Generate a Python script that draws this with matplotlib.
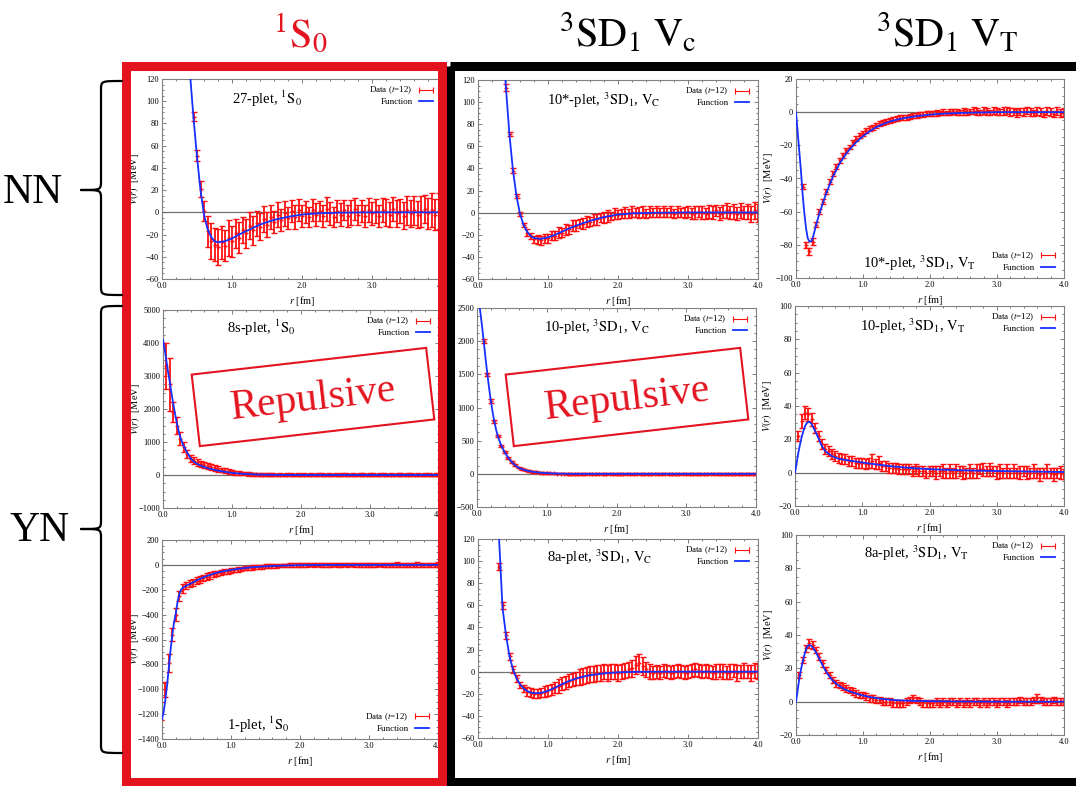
import numpy as np
import matplotlib
matplotlib.use("Agg")
import matplotlib.pyplot as plt
from matplotlib.patches import Rectangle, PathPatch
from matplotlib.path import Path
from matplotlib.lines import Line2D
from matplotlib.ticker import MultipleLocator, FormatStrFormatter

plt.rcParams['font.family'] = ['Liberation Serif', 'DejaVu Serif']
plt.rcParams['mathtext.fontset'] = 'stix'

nan = np.nan

# ---------------- data ----------------
R_DATA = [0.00, 0.05, 0.10, 0.15, 0.20, 0.25, 0.30, 0.35, 0.40, 0.45, 0.50, 0.55, 0.60, 0.65, 0.70,
          0.75, 0.80, 0.85, 0.90, 0.95, 1.00, 1.05, 1.10, 1.15, 1.20, 1.25, 1.30, 1.35, 1.40, 1.45,
          1.50, 1.55, 1.60, 1.65, 1.70, 1.75, 1.80, 1.85, 1.90, 1.95, 2.00, 2.05, 2.10, 2.15, 2.20,
          2.25, 2.30, 2.35, 2.40, 2.45, 2.50, 2.55, 2.60, 2.65, 2.70, 2.75, 2.80, 2.85, 2.90, 2.95,
          3.00, 3.05, 3.10, 3.15, 3.20, 3.25, 3.30, 3.35, 3.40, 3.45, 3.50, 3.55, 3.60, 3.65, 3.70,
          3.75, 3.80, 3.85, 3.90, 3.95, 4.00]

R_FUNC = [0.0, 0.025, 0.05, 0.075, 0.1, 0.125, 0.15, 0.175, 0.2, 0.225, 0.25, 0.275, 0.3,
          0.35, 0.4, 0.45, 0.5, 0.55, 0.6, 0.65, 0.7, 0.75, 0.8,
          0.9, 1.0, 1.1, 1.2, 1.3, 1.4, 1.5, 1.6,
          1.8, 2.0, 2.2, 2.5, 3.0, 3.5, 4.0]

# 27-plet, 1S0 (NN)
V_27 = [nan, nan, nan, nan, nan, 350, 240, 168, 126, 86, 51, 21, 1, -17, -26, -29, -31, -27, -30, -23, -26,
        -19, -23, -16, -19, -12, -16, -10, -13, -6, -11,
        -4, -9, -2, -7, -1, -5, 1, -4, 2, -3,
        0, -4, 2, -2, 1, -3, 3, -1, -4, 1,
        -2, 2, -3, 0, 3, -2, 1, -3, 2, -1,
        1, -3, 2, 0, -2, 3, -1, 1, -3, 2,
        -1, 2, -2, 1, 3, -1, 2, -2, 1, 3]
E_27 = [0, 0, 0, 0, 0, 8, 6, 5, 4, 4, 5, 7, 9, 14, 16, 15, 16, 15, 14, 16, 14,
        13, 14, 12, 13, 12, 13, 11, 12, 12, 11,
        11, 10, 11, 10, 11, 10, 10, 11, 10, 10,
        10, 9, 10, 10, 9, 10, 11, 10, 9, 10,
        10, 9, 10, 11, 10, 9, 10, 10, 11, 10,
        11, 10, 11, 12, 11, 11, 12, 11, 12, 13,
        12, 13, 12, 14, 13, 14, 15, 14, 16, 17]
F_27 = [1500, 1400, 1250, 1100, 950, 820, 700, 600, 500, 420, 350, 290, 235,
        165, 125, 85, 50, 20, -2, -15, -22, -26, -27,
        -26, -23.5, -20, -17, -14, -11, -8.8, -6.8,
        -4, -2, -1, -0.3, 0, 0, 0]

# 10*-plet, 3SD1, VC (NN)
V_10sC = [nan, nan, nan, nan, nan, nan, nan, 160, 113, 71, 38, 15, -1, -11, -18, -21, -24, -24, -25, -23, -23,
          -21, -21, -18, -18, -15, -15, -12, -12, -10, -10,
          -8, -8, -6, -6, -4, -4, -3, -3, -1, -2,
          -1, 0, -1, 1, 0, 0, 1, -1, 1, 0,
          1, 0, 1, 0, 1, -1, 1, 0, 0, 1,
          -1, 0, 1, 0, -1, 1, 0, 2, -1, 1,
          2, 0, 1, -1, 2, 0, 1, -1, 2, 0]
E_10sC = [0, 0, 0, 0, 0, 0, 0, 3, 3, 2, 2, 2, 2, 2, 3, 3, 3, 4, 4, 4, 4,
          4, 4, 5, 4, 5, 4, 5, 5, 4, 5,
          5, 4, 5, 5, 4, 5, 5, 4, 5, 4,
          4, 5, 4, 5, 4, 5, 5, 4, 5, 4,
          5, 4, 5, 4, 5, 4, 5, 4, 5, 5,
          5, 6, 5, 6, 5, 6, 6, 5, 6, 6,
          7, 6, 7, 6, 7, 6, 7, 7, 8, 8]
F_10sC = [1500, 1350, 1200, 1050, 900, 780, 670, 570, 480, 400, 330, 270, 220,
          160, 112, 70, 38, 15, -1, -11, -17, -21, -23,
          -23.7, -22.3, -20, -17.2, -14.3, -11.8, -9.5, -7.4,
          -4, -1.7, -0.6, -0.1, 0.2, 0.2, 0.2]

# 10*-plet, 3SD1, VT (NN)
V_10sT = [nan, nan, -45, -80, -84, -78, -68, -60, -54, -48, -42, -37, -33, -29, -26, -23, -21, -18, -16, -14, -13,
          -11, -10, -9, -8, -7, -6, -5.5, -5, -4.5, -4,
          -3.5, -3, -3, -2.5, -2, -2, -1.5, -1.5, -1, -1,
          -1, -0.5, -0.5, 0, -0.5, 0, 0.5, 0, 0, 0.5,
          0, 0.5, 1, 0.5, 0, 1, 0.5, 0, 1, 0.5,
          0, 0.5, 1, 0, 0.5, -0.5, 0.5, 0, 1, 0,
          -0.5, 0.5, 0, -1, 0.5, 0, -1, 0.5, -0.5, 0]
E_10sT = [0, 0, 1.5, 2, 2, 2, 1.5, 1.5, 1.5, 1.5, 1.5, 1.5, 1.5, 1.5, 1.5, 1.5, 1.5, 1.5, 1.5, 1.5, 1.5,
          1.5, 1.5, 1.5, 1.5, 1.5, 1.5, 1.5, 1.5, 1.5, 1.5,
          1.5, 1.5, 1.5, 1.5, 1.5, 1.5, 1.5, 1.5, 1.5, 1.5,
          1.5, 2, 1.5, 2, 1.5, 2, 1.5, 2, 1.5, 2,
          2, 1.5, 2, 2, 1.5, 2, 2, 1.5, 2, 2,
          2, 2.5, 2, 2.5, 2, 2.5, 2, 2.5, 2, 2.5,
          2, 2.5, 2.5, 2, 2.5, 2.5, 2, 2.5, 2.5, 2.5]
F_10sT = [0, -12, -24, -36, -50, -61, -70, -76, -78, -78, -76, -72, -68,
          -61, -55, -49, -44, -39, -35, -31, -28, -25, -22.5,
          -18, -14.5, -11.5, -9, -7.2, -5.7, -4.6, -3.7,
          -2.4, -1.5, -0.9, -0.4, 0, 0, 0]

# 8s-plet, 1S0 (YN)
V_8s = [4000, 3300, 2750, 1900, 1500, 1100, 860, 650, 500, 430, 380, 330, 300, 270, 240, 210, 180, 150, 130, 110, 90,
        75, 60, 50, 40, 30, 25, 20, 15, 10, 10,
        5, 10, 0, 5, 0, 10, 5, 0, 10, 0,
        5, 0, 10, 0, 5, 10, 0, 5, 0, 10,
        0, 5, 10, 0, 5, 0, 10, 5, 0, 5,
        10, 0, 5, 10, 0, 5, 0, 10, 5, 0,
        5, 10, 0, 5, 0, 10, 5, 0, 10, 5]
E_8s = [1000, 700, 800, 300, 250, 200, 150, 120, 120, 110, 100, 100, 90, 90, 80, 80, 80, 70, 70, 70, 60,
        60, 60, 55, 55, 50, 50, 50, 50, 45, 45,
        45, 45, 45, 45, 45, 45, 45, 45, 45, 45,
        45, 45, 45, 45, 45, 45, 45, 45, 45, 45,
        45, 45, 45, 45, 45, 45, 45, 45, 45, 45,
        45, 45, 45, 45, 45, 45, 45, 45, 45, 45,
        45, 45, 45, 45, 45, 45, 45, 45, 45, 45]
F_8s = [4100, 3800, 3450, 3100, 2800, 2450, 2150, 1850, 1580, 1350, 1160, 1000, 880,
        680, 500, 400, 330, 280, 240, 205, 180, 155, 130,
        95, 65, 45, 30, 20, 13, 8, 5,
        2, 1, 0, 0, 0, 0, 0]

# 1-plet, 1S0 (YN)
V_1 = [-1250, -1000, -790, -560, -400, -250, -190, -165, -150, -140, -128, -118, -105, -95, -85, -75, -68, -62, -56, -50, -45,
       -40, -36, -32, -28, -25, -22, -19, -17, -14, -12,
       -10, -9, -7, -6, -5, -4, -3, -2, -2, -1,
       0, -1, 2, 0, 3, 1, -2, 2, 0, 3,
       1, -1, 2, 0, 3, -2, 1, 2, 0, -1,
       2, 0, 3, 1, -1, 2, 0, 3, -2, 1,
       2, 0, -1, 3, 1, 0, 2, -1, 1, 2]
E_1 = [150, 60, 70, 50, 50, 40, 35, 30, 30, 30, 28, 28, 26, 26, 25, 24, 22, 22, 20, 20, 20,
       18, 18, 18, 17, 17, 17, 16, 16, 16, 16,
       15, 15, 15, 15, 15, 15, 15, 15, 15, 15,
       15, 16, 15, 16, 15, 16, 15, 16, 15, 16,
       15, 16, 15, 16, 15, 16, 15, 16, 15, 16,
       16, 17, 16, 17, 16, 17, 16, 17, 16, 17,
       17, 18, 17, 18, 17, 18, 17, 18, 18, 18]
F_1 = [-1240, -1180, -1080, -960, -820, -680, -560, -460, -390, -300, -235, -200, -185,
       -168, -155, -140, -125, -112, -100, -90, -80, -70, -62,
       -50, -40, -32, -25, -19, -15, -12, -9,
       -5, -2, -1, 0, 0, 0, 0]

# 10-plet, 3SD1, VC (YN)
V_10C = [nan, nan, 2000, 1500, 1100, 790, 570, 425, 325, 245, 180, 130, 95, 70, 52, 40, 30, 24, 18, 14, 10,
         8, 6, 4, 3, 2, 1, 1, 0, 0, 0,
         0, 2, -2, 0, 3, -1, 0, 2, -2, 1,
         0, -2, 2, 0, -1, 3, 0, -2, 1, 0,
         2, -1, 0, 3, -2, 0, 1, -1, 2, 0,
         -2, 1, 0, 2, -1, 0, 3, -2, 0, 1,
         -1, 2, 0, -2, 1, 0, 2, -1, 0, 1]
E_10C = [0, 0, 30, 25, 25, 20, 20, 15, 15, 15, 15, 12, 12, 12, 12, 12, 12, 12, 12, 12, 12,
         12, 12, 12, 12, 12, 12, 12, 12, 12, 12,
         12, 12, 12, 12, 12, 12, 12, 12, 12, 12,
         12, 12, 12, 12, 12, 12, 12, 12, 12, 12,
         12, 12, 12, 12, 12, 12, 12, 12, 12, 12,
         13, 13, 13, 13, 13, 13, 13, 13, 13, 13,
         14, 14, 14, 14, 14, 14, 14, 14, 14, 14]
F_10C = [2800, 2620, 2420, 2200, 1960, 1720, 1490, 1280, 1090, 920, 780, 660, 560,
         420, 320, 240, 175, 125, 90, 68, 52, 40, 30,
         18, 10, 6, 3, 1, 0, 0, 0,
         0, 0, 0, 0, 0, 0, 0]

# 10-plet, 3SD1, VT (YN)
V_10T = [nan, 22, 31, 36, 35, 32, 27, 22, 17, 14, 13, 11, 10, 9, 8, 8, 7, 7, 6, 6, 6,
         5, 6, 7, 5, 6, 4, 4, 3, 3, 3,
         2, 2, 2, 2, 1, 2, 1, 1, 0, 1,
         1, 0, 1, 1, 0, 1, 0, 1, 1, 0,
         0, 1, 0, 1, 2, 2, 1, 2, 1, 0,
         1, 0, 1, 0, 1, 0, 0, 1, 0, 0,
         1, 0, -1, 0, 1, 0, -1, 0, 0, -1]
E_10T = [0, 3, 4, 4, 4, 4, 3, 3, 3, 3, 3, 3, 3, 3, 3, 3, 3, 3, 3, 3, 3,
         3, 3, 4, 3, 4, 3, 3, 3, 3, 3,
         3, 3, 3, 3, 3, 3, 3, 3, 3, 3,
         3, 4, 3, 4, 3, 4, 3, 4, 3, 4,
         3, 4, 3, 4, 3, 4, 3, 4, 3, 4,
         4, 3, 4, 3, 4, 3, 4, 3, 4, 3,
         4, 3, 4, 3, 4, 3, 4, 3, 4, 3]
F_10T = [0, 6, 12, 17, 21.5, 25, 28, 29.7, 30.5, 30.2, 29, 27, 25,
         20.5, 16, 13, 11.3, 10, 9, 8.4, 8, 7.6, 7.3,
         6.7, 6.1, 5.5, 5, 4.5, 4, 3.6, 3.2,
         2.6, 2.1, 1.8, 1.4, 1, 0.7, 0.4]

# 8a-plet, 3SD1, VC (YN)
V_8aC = [nan, nan, nan, nan, nan, 150, 95, 60, 33, 14, 2, -6, -12, -15, -18, -19, -20, -20, -19, -18, -17,
         -16, -14, -13, -11, -10, -8, -7, -6, -5, -4,
         -3, -2, -2, -1, -1, 0, -1, 0, 0, -1,
         0, 1, 2, 3, 6, 8, 5, 2, 0, -1,
         0, -1, 1, 0, -1, 0, 1, 0, -1, 0,
         1, 2, 1, 0, 1, 0, -1, 0, 1, 0,
         -1, 0, 1, -1, 0, 1, 0, -1, 1, 0]
E_8aC = [0, 0, 0, 0, 0, 4, 3, 3, 3, 3, 3, 3, 3, 3, 4, 4, 4, 4, 4, 5, 5,
         5, 5, 6, 6, 6, 6, 6, 6, 7, 7,
         7, 7, 7, 7, 7, 7, 7, 7, 7, 7,
         7, 7, 7, 8, 8, 8, 8, 7, 7, 6,
         6, 6, 6, 6, 6, 6, 6, 6, 6, 6,
         6, 6, 6, 6, 6, 6, 6, 7, 6, 7,
         6, 7, 6, 7, 6, 7, 6, 7, 7, 7]
F_8aC = [1500, 1300, 1100, 950, 800, 650, 520, 410, 340, 270, 210, 160, 122,
         58, 33, 14, 2, -6, -11.5, -15, -17.5, -18.8, -19.4,
         -19.3, -17.3, -14.5, -11.3, -8.5, -6.2, -4.5, -3.2,
         -1.5, -0.6, -0.2, 0, 0, 0, 0]

# 8a-plet, 3SD1, VT (YN)
V_8aT = [nan, 16, 25, 32, 35, 34, 31, 27, 23, 19, 16, 13, 11, 10, 9, 8, 7, 6, 5, 4, 4,
         3, 2, 2, 1, 1, 0, 0, 0, -1, -1,
         -1, -1, 0, 1, 2, 1, 0, -1, -1, -1,
         -1, 0, -1, 0, -1, 0, 0, -1, 0, -1,
         0, -1, 0, 0, -1, 0, -1, 0, 0, -1,
         0, 0, -1, 0, 0, 0, 1, 0, 0, 0,
         1, 2, 1, 0, 0, 0, 1, 0, 0, 0]
E_8aT = [0, 2, 2, 2, 2.5, 2.5, 2, 2, 2, 2, 2, 2, 2, 2, 2, 2, 2, 2, 2, 2, 2,
         2, 2, 2, 2, 2, 2, 2, 2, 2, 2,
         2, 2, 2, 2, 2, 2, 2, 2, 2, 2,
         2, 2, 2, 2, 2, 2, 2, 2, 2, 2,
         2, 2, 2, 2, 2, 2, 2, 2, 2, 2,
         2, 2, 2, 2, 2, 2, 2, 2, 2, 2,
         2, 2.5, 2, 2, 2, 2, 2, 2, 2, 2]
F_8aT = [0, 7, 14, 19.5, 24, 28, 31.5, 33.5, 34, 33.6, 32.5, 31, 29.5,
         25.5, 21.5, 18, 15, 12.6, 10.8, 9.3, 8, 7, 6.2,
         4.8, 3.7, 2.8, 2.1, 1.6, 1.2, 0.9, 0.7,
         0.4, 0.3, 0.2, 0.1, 0, 0, 0]

TITLES = [r"27-plet, $^{1}\mathrm{S}_{0}$",
          r"10*-plet, $^{3}\mathrm{SD}_{1}$, $\mathrm{V}_{\mathrm{C}}$",
          r"10*-plet, $^{3}\mathrm{SD}_{1}$, $\mathrm{V}_{\mathrm{T}}$",
          r"8s-plet, $^{1}\mathrm{S}_{0}$",
          r"10-plet, $^{3}\mathrm{SD}_{1}$, $\mathrm{V}_{\mathrm{C}}$",
          r"10-plet, $^{3}\mathrm{SD}_{1}$, $\mathrm{V}_{\mathrm{T}}$",
          r"1-plet, $^{1}\mathrm{S}_{0}$",
          r"8a-plet, $^{3}\mathrm{SD}_{1}$, $\mathrm{V}_{\mathrm{C}}$",
          r"8a-plet, $^{3}\mathrm{SD}_{1}$, $\mathrm{V}_{\mathrm{T}}$"]
COL_HEADERS = [r"$^{1}\mathrm{S}_{0}$",
               r"$^{3}\mathrm{SD}_{1}\ \mathrm{V}_{\mathrm{c}}$",
               r"$^{3}\mathrm{SD}_{1}\ \mathrm{V}_{\mathrm{T}}$"]
ROW_LABELS = ["NN", "YN"]

# ---------------- layout ----------------
W, H = 1076, 786
RED = '#e3141f'
DRED = '#ff1010'
BLUE = '#1530ff'

PANELS = [
    # box(x0,x1,y0,y1 px), ylim, ystep, V, E, F, title pos, legend loc
    dict(box=(162, 442, 79, 279), ylim=(-60, 120), ystep=20, V=V_27, E=E_27, F=F_27, t=TITLES[0], tp=(0.375, 0.9), leg='upper right'),
    dict(box=(478, 758, 80, 279), ylim=(-60, 120), ystep=20, V=V_10sC, E=E_10sC, F=F_10sC, t=TITLES[1], tp=(0.45, 0.9), leg='upper right'),
    dict(box=(796, 1064, 79, 278), ylim=(-100, 20), ystep=20, V=V_10sT, E=E_10sT, F=F_10sT, t=TITLES[2], tp=(0.46, 0.075), leg='lower right'),
    dict(box=(163, 439, 310, 508), ylim=(-1000, 5000), ystep=1000, V=V_8s, E=E_8s, F=F_8s, t=TITLES[3], tp=(0.355, 0.91), leg='upper right'),
    dict(box=(477, 756, 308, 507), ylim=(-500, 2500), ystep=500, V=V_10C, E=E_10C, F=F_10C, t=TITLES[4], tp=(0.43, 0.905), leg='upper right'),
    dict(box=(795, 1064, 306, 506), ylim=(-20, 100), ystep=20, V=V_10T, E=E_10T, F=F_10T, t=TITLES[5], tp=(0.44, 0.9), leg='upper right'),
    dict(box=(162, 438, 540, 739), ylim=(-1400, 200), ystep=200, V=V_1, E=E_1, F=F_1, t=TITLES[6], tp=(0.35, 0.07), leg='lower right'),
    dict(box=(478, 758, 539, 738), ylim=(-60, 120), ystep=20, V=V_8aC, E=E_8aC, F=F_8aC, t=TITLES[7], tp=(0.435, 0.91), leg='upper right'),
    dict(box=(796, 1064, 535, 735), ylim=(-20, 100), ystep=20, V=V_8aT, E=E_8aT, F=F_8aT, t=TITLES[8], tp=(0.45, 0.91), leg='upper right'),
]

fig = plt.figure(figsize=(W / 100, H / 100), dpi=100)
fig.patch.set_facecolor('white')

for p in PANELS:
    x0, x1, y0, y1 = p['box']
    ax = fig.add_axes([x0 / W, 1 - y1 / H, (x1 - x0) / W, (y1 - y0) / H])
    ax.set_xlim(0, 4)
    ax.set_ylim(*p['ylim'])
    ax.axhline(0, color='#707070', lw=0.9, zorder=1)
    ax.errorbar(R_DATA, np.array(p['V'], dtype=float), yerr=np.array(p['E'], dtype=float),
                fmt='+', ms=3.5, mew=1.0, color=DRED, ecolor=DRED, elinewidth=1.3,
                capsize=2.0, capthick=1.1, zorder=2)
    ax.plot(R_FUNC, p['F'], color=BLUE, lw=1.3, zorder=3)
    ax.xaxis.set_major_locator(MultipleLocator(1.0))
    ax.xaxis.set_minor_locator(MultipleLocator(0.2))
    ax.xaxis.set_major_formatter(FormatStrFormatter('%.1f'))
    ax.yaxis.set_major_locator(MultipleLocator(p['ystep']))
    ax.yaxis.set_minor_locator(MultipleLocator(p['ystep'] / 4))
    ax.tick_params(which='both', direction='in', top=True, right=True, color='#666666',
                   labelsize=6, width=0.6, pad=2)
    ax.tick_params(which='major', length=3)
    ax.tick_params(which='minor', length=1.5)
    for s in ax.spines.values():
        s.set_color('#808080')
        s.set_linewidth(0.8)
    ax.set_xlabel(r"$r$ [fm]", fontsize=7.5)
    ax.set_ylabel(r"$V(r)$  [MeV]", fontsize=7.5)
    ax.xaxis.set_label_coords(0.5, -15.0 / (y1 - y0))
    ax.yaxis.set_label_coords(-21.0 / (x1 - x0), 0.5)
    ax.text(p['tp'][0], p['tp'][1], p['t'], transform=ax.transAxes, ha='center', va='center',
            fontsize=10.5)
    hd = Line2D([0, 1], [0, 0], color=DRED, lw=0.8, marker='|', ms=4, mew=0.8)
    hf = Line2D([0, 1], [0, 0], color=BLUE, lw=1.3)
    ax.legend([hd, hf], [r"Data ($t$=12)", "Function"], loc=p['leg'], frameon=False,
              markerfirst=False, fontsize=6.5, handlelength=2.2, numpoints=2,
              borderaxespad=0.25, labelspacing=0.15, handletextpad=0.4)

# ---------------- overlay (frames, braces, labels) ----------------
ov = fig.add_axes([0, 0, 1, 1], zorder=10)
ov.set_xlim(0, W)
ov.set_ylim(H, 0)
ov.axis('off')
ov.patch.set_alpha(0)

ov.add_patch(Rectangle((450, 66), 700, 716, fill=False, edgecolor='black', lw=6.5))
ov.add_patch(Rectangle((126, 66), 316, 716, fill=False, edgecolor=RED, lw=6.5))

for cx, txt, col in zip([300, 628, 947], COL_HEADERS, [RED, 'black', 'black']):
    ov.text(cx, 47, txt, ha='center', va='baseline', fontsize=29, color=col)


def brace(x_end, x_spine, x_tip, ytop, ybot, ymid, r=9):
    verts = [(x_end, ytop), (x_spine, ytop), (x_spine, ytop), (x_spine, ytop + r),
             (x_spine, ymid - r),
             (x_spine, ymid), (x_spine, ymid), (x_tip, ymid),
             (x_spine, ymid), (x_spine, ymid), (x_spine, ymid + r),
             (x_spine, ybot - r),
             (x_spine, ybot), (x_spine, ybot), (x_end, ybot)]
    codes = [Path.MOVETO, Path.CURVE4, Path.CURVE4, Path.CURVE4,
             Path.LINETO,
             Path.CURVE4, Path.CURVE4, Path.CURVE4,
             Path.CURVE4, Path.CURVE4, Path.CURVE4,
             Path.LINETO,
             Path.CURVE4, Path.CURVE4, Path.CURVE4]
    ov.add_patch(PathPatch(Path(verts, codes), fill=False, lw=1.6, edgecolor='black',
                           capstyle='round', joinstyle='round'))


brace(122, 101, 81, 81, 295, 190)
brace(122, 101, 81, 306, 753, 529)
ov.text(33, 203, ROW_LABELS[0], ha='center', va='baseline', fontsize=30)
ov.text(40, 541, ROW_LABELS[1], ha='center', va='baseline', fontsize=30)

for cx in (313, 627):
    ov.add_patch(Rectangle((cx - 118, 397 - 36), 236, 72, angle=-6.5, rotation_point='center',
                           fill=False, edgecolor=RED, lw=1.5))
    ov.text(cx, 399, "Repulsive", ha='center', va='center', rotation=6.5,
            rotation_mode='anchor', fontsize=30, color=RED)

fig.savefig("out.png", dpi=100)
